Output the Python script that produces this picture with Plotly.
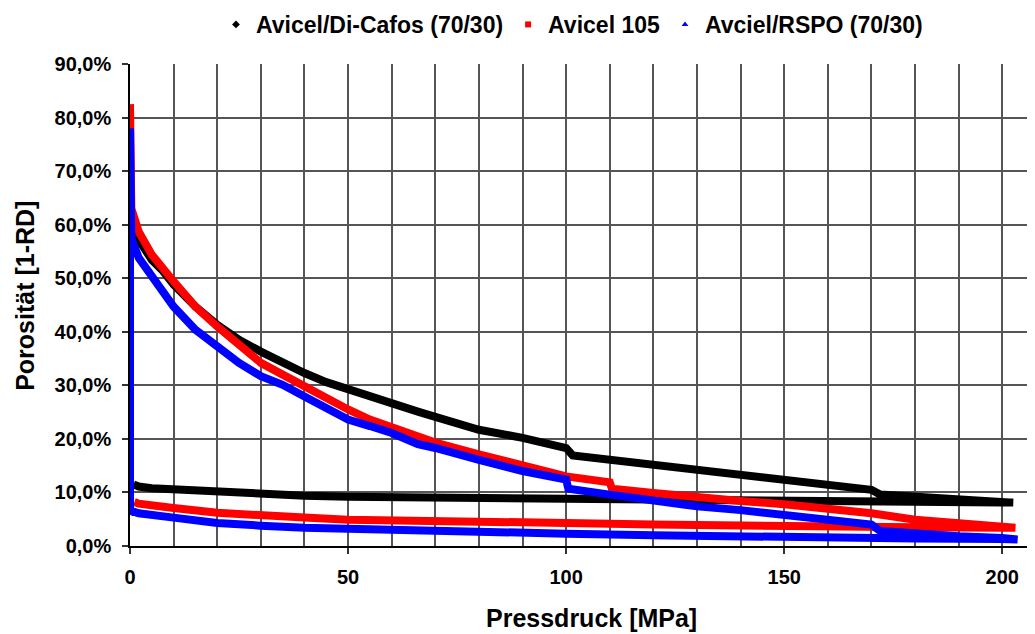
import plotly.graph_objects as go

# ---------------- data ----------------
series_names = ["Avicel/Di-Cafos (70/30)", "Avicel 105", "Avciel/RSPO (70/30)"]

# Avicel/Di-Cafos (70/30): loading then unloading
dicafos_load_x = [0, 0, 0.5, 2, 5, 7.6, 10, 15, 20, 25, 30, 35, 40, 45, 50, 55, 60, 66, 70,
                  80, 90, 100, 101.5, 110, 120, 130, 140, 150, 160, 170, 172, 180, 190, 200, 202.5]
dicafos_load_y = [79, 63, 60, 57.2, 53.4, 51.3, 48.8, 44.7, 41.3, 38.5, 36.3, 34.2, 32.3, 30.6,
                  29.2, 27.9, 26.7, 25.1, 24.1, 21.7, 20.2, 18.3, 16.9, 16.1, 15.2, 14.3, 13.3,
                  12.1, 11.2, 10.5, 9.6, 9.3, 8.8, 8.4, 8.1]
dicafos_unload_x = [202.5, 200, 180, 160, 140, 120, 100, 80, 60, 50, 40, 30, 20, 10, 5, 2, 0.8]
dicafos_unload_y = [8.1, 8.1, 8.2, 8.3, 8.4, 8.7, 8.9, 9.0, 9.1, 9.2, 9.4, 9.7, 10.0, 10.5, 10.8, 11.1, 11.5]

# Avicel 105
avicel_load_x = [0, 0, 0.3, 2, 5, 10, 15, 20, 25, 30, 35, 40, 45, 50, 55, 60, 66, 70, 80, 90,
                 100, 110, 110.5, 120, 130, 140, 150, 160, 170, 180, 190, 200, 203]
avicel_load_y = [82.5, 70, 63, 58.7, 54.4, 49.4, 44.7, 41.0, 37.6, 34.2, 32.0, 29.8, 27.3, 25.5,
                 23.6, 22.1, 20.2, 19.3, 17.1, 14.9, 13.0, 11.9, 10.7, 9.9, 9.0, 8.4, 7.8, 7.1,
                 6.1, 4.9, 4.1, 3.6, 3.4]
avicel_unload_x = [203, 200, 180, 160, 140, 120, 100, 80, 60, 50, 40, 30, 20, 10, 5, 2, 1]
avicel_unload_y = [3.4, 3.4, 3.5, 3.6, 3.8, 4.0, 4.3, 4.5, 4.8, 4.9, 5.3, 5.8, 6.2, 7.1, 7.5, 7.9, 8.2]

# Avciel/RSPO (70/30)
rspo_load_x = [0, 0, 0.3, 2, 5, 10, 15, 20, 25, 30, 35, 40, 45, 50, 55, 60, 66, 70, 80, 90,
               100, 100.5, 110, 120, 130, 140, 150, 160, 170, 172, 180, 190, 200, 203.5]
rspo_load_y = [78, 60, 57.5, 53.8, 50.3, 44.7, 40.4, 37.3, 34.2, 31.7, 30.1, 27.9, 25.8, 23.6,
               22.4, 21.1, 19.0, 18.3, 16.1, 14.0, 12.4, 10.7, 9.6, 8.4, 7.4, 6.7, 5.9, 4.9,
               4.0, 2.8, 2.3, 1.8, 1.5, 1.2]
rspo_unload_x = [203.5, 200, 180, 160, 140, 120, 100, 80, 60, 50, 40, 30, 20, 10, 5, 2, 0.5, 0, 0]
rspo_unload_y = [1.2, 1.3, 1.4, 1.5, 1.7, 2.0, 2.3, 2.6, 2.9, 3.0, 3.4, 3.8, 4.3, 5.3, 5.7, 6.1,
                 6.5, 6.2, 58]

series_colors = ["#000000", "#ff0000", "#0000ff"]
series_symbols = ["diamond", "square", "triangle-up"]

y_tickvals = [0, 10, 20, 30, 40, 50, 60, 70, 80, 90]
y_ticktext = [f"{v:.1f}%".replace(".", ",") for v in y_tickvals]
x_tickvals = [0, 50, 100, 150, 200]

x_title = "Pressdruck [MPa]"
y_title = "Porosität [1-RD]"

# ---------------- figure ----------------
FONT = "Liberation Sans, Arial, sans-serif"
fig = go.Figure()

curves = [
    (dicafos_load_x + dicafos_unload_x, dicafos_load_y + dicafos_unload_y),
    (avicel_load_x + avicel_unload_x, avicel_load_y + avicel_unload_y),
    (rspo_load_x + rspo_unload_x, rspo_load_y + rspo_unload_y),
]

for (cx, cy), col in zip(curves, series_colors):
    fig.add_trace(go.Scatter(x=cx, y=cy, mode="lines",
                             line=dict(color=col, width=8),
                             showlegend=False, hoverinfo="skip"))

for name, col, sym in zip(series_names, series_colors, series_symbols):
    fig.add_trace(go.Scatter(x=[None], y=[None], mode="markers", name=name,
                             marker=dict(color=col, symbol=sym, size=6)))

# the page body has an 8px margin, so the figure is sized/offset to compensate
fig.update_layout(
    width=1027, height=626,
    margin=dict(l=122, r=0, t=56, b=87.5, pad=0, autoexpand=False),
    paper_bgcolor="white", plot_bgcolor="white",
    font=dict(family=FONT, color="black"),
    showlegend=True,
    legend=dict(orientation="h", x=0.095, xanchor="left", y=1.082, yanchor="middle",
                font=dict(family=FONT, size=23, weight="bold", color="black"),
                itemwidth=30, bgcolor="rgba(0,0,0,0)", tracegroupgap=0),
    xaxis=dict(range=[0, 207.5], tickvals=x_tickvals, showgrid=True,
               gridcolor="#555555", gridwidth=1.5,
               minor=dict(dtick=10, tick0=0, showgrid=True, gridcolor="#555555", gridwidth=1.5),
               showline=True, linecolor="black", linewidth=1.5,
               ticks="outside", ticklen=6, tickcolor="#333333", tickwidth=1.5,
               tickfont=dict(family=FONT, size=20, weight="bold", color="black"),
               ticklabelstandoff=6, zeroline=False, automargin=False),
    yaxis=dict(range=[0, 90], tickvals=y_tickvals, ticktext=y_ticktext,
               showgrid=True, gridcolor="#555555", gridwidth=1.5,
               showline=True, linecolor="black", linewidth=1.5,
               ticks="outside", ticklen=6, tickcolor="#333333", tickwidth=1.5,
               tickfont=dict(family=FONT, size=20, weight="bold", color="black"),
               ticklabelstandoff=7, zeroline=False, automargin=False),
    annotations=[
        dict(text=x_title, xref="paper", yref="paper", x=0.51, y=-0.150,
             xanchor="center", yanchor="middle", showarrow=False,
             font=dict(family=FONT, size=25, weight="bold", color="black")),
        dict(text=y_title, xref="paper", yref="paper", x=-0.116, y=0.519,
             xanchor="center", yanchor="middle", showarrow=False, textangle=-90,
             font=dict(family=FONT, size=25, weight="bold", color="black")),
    ],
)

fig.write_html("out.html")
